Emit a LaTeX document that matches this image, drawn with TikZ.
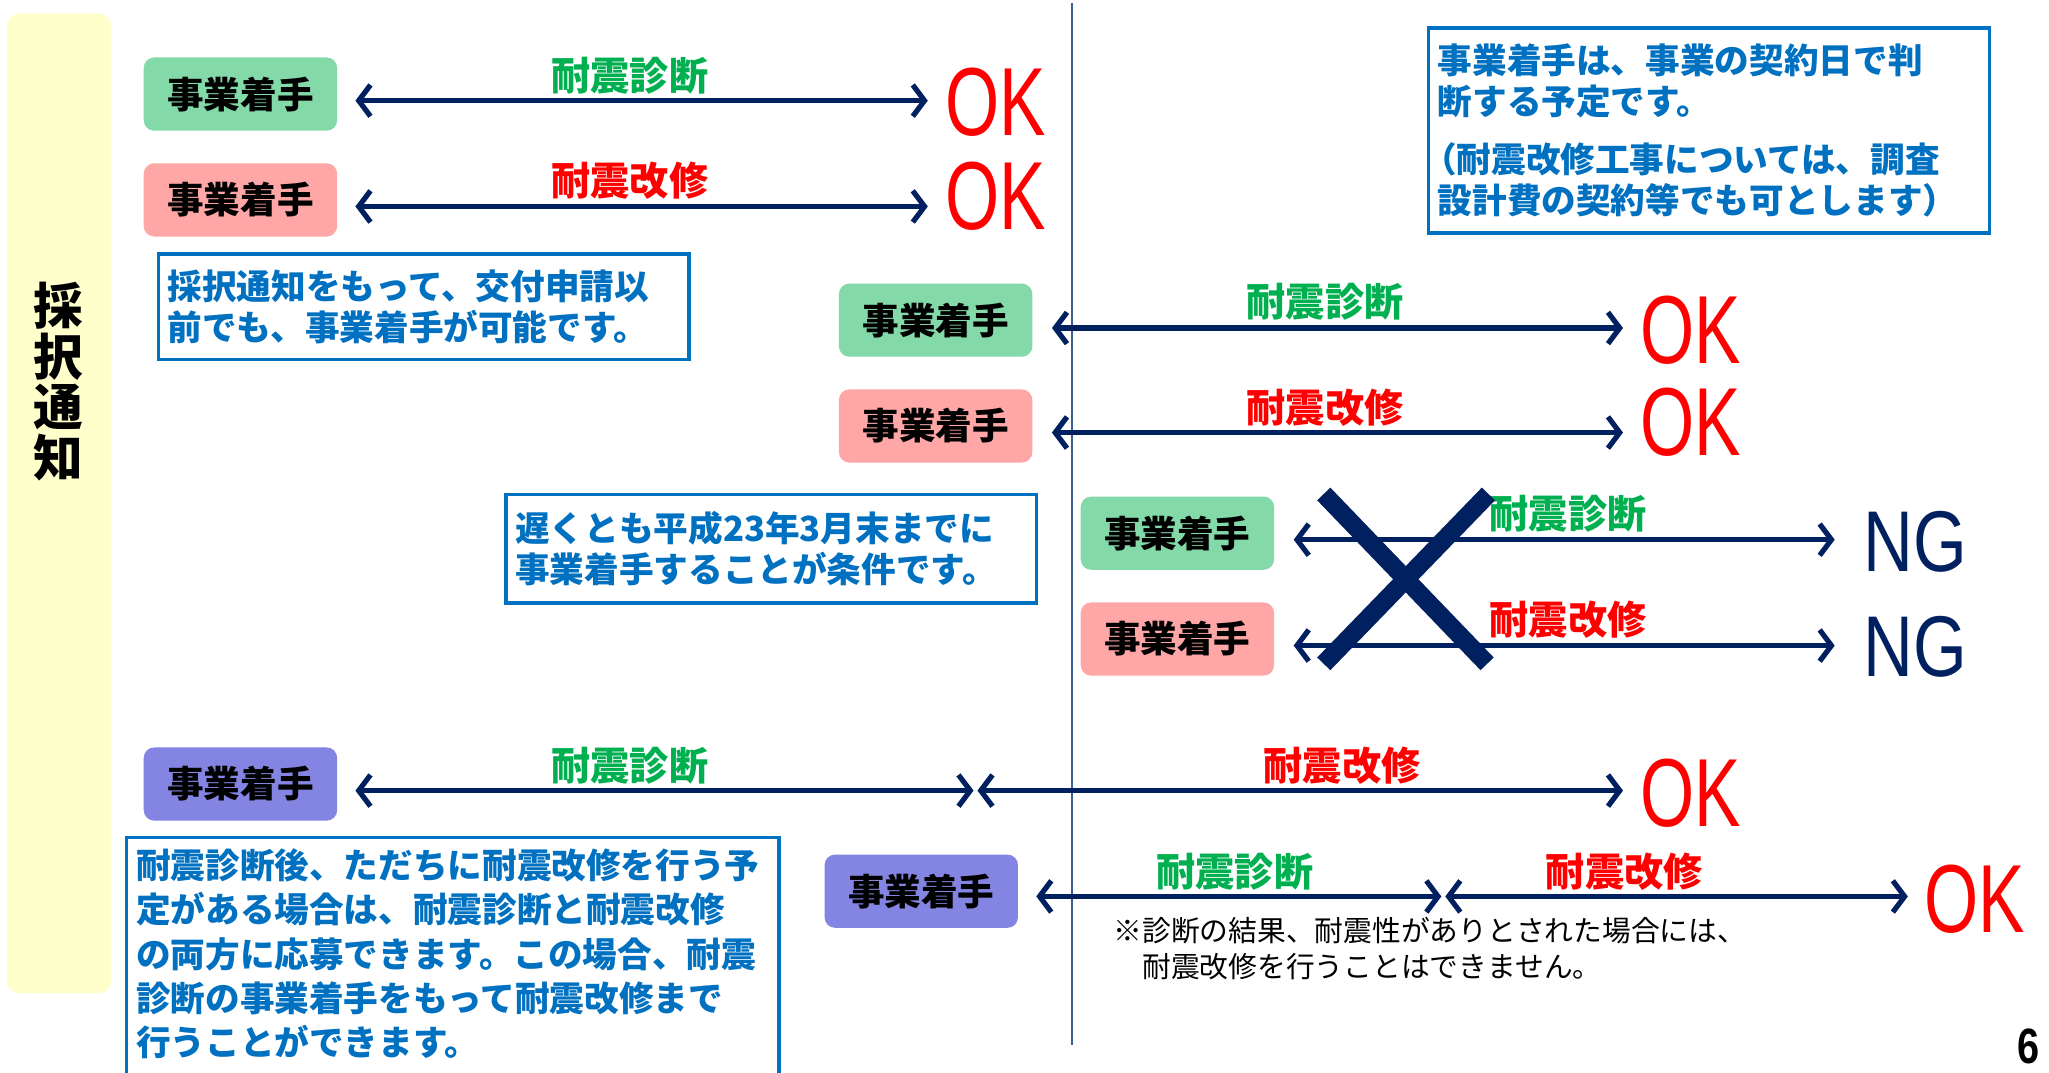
\documentclass[tikz,border=0pt]{standalone}
\usepackage{fontspec}
\setmainfont{Noto Sans CJK JP}
\newfontfamily\okfont{Liberation Sans}
\usetikzlibrary{arrows.meta}
\definecolor{navy}{HTML}{002060}
\definecolor{lblgreen}{HTML}{00B050}
\definecolor{lblred}{HTML}{FF0000}
\definecolor{txtblue}{HTML}{0070C0}
\definecolor{boxgreen}{HTML}{84D9A8}
\definecolor{boxred}{HTML}{FFA7A7}
\definecolor{boxpurple}{HTML}{8484E2}
\definecolor{sideyellow}{HTML}{FFFFCC}
\definecolor{vline}{HTML}{3B5E96}
\tikzset{
  startbox/.style={rounded corners=8pt, minimum width=148pt, minimum height=56pt, inner sep=0pt,
    font=\fontsize{28}{30}\selectfont\bfseries, text=black},
  gbox/.style={startbox, fill=boxgreen},
  rbox/.style={startbox, fill=boxred},
  pbox/.style={startbox, fill=boxpurple},
  lblg/.style={font=\fontsize{30}{32}\selectfont\bfseries, text=lblgreen, inner sep=0pt},
  lblr/.style={font=\fontsize{30}{32}\selectfont\bfseries, text=lblred, inner sep=0pt},
  okmark/.style={font=\okfont\fontsize{74}{80}\selectfont, text=lblred, xscale=0.72, inner sep=0pt},
  ngmark/.style={font=\okfont\fontsize{66}{70}\selectfont, text=navy, xscale=0.8, inner sep=0pt},
  arr/.style={navy, line width=4pt, {Straight Barb[length=9pt,width=24pt]}-{Straight Barb[length=9pt,width=24pt]}},
  infobox/.style={draw=txtblue, line width=2.6pt, anchor=north west, inner xsep=7pt, inner ysep=6pt,
    align=left, text=txtblue, font=\fontsize{26.5}{31}\selectfont\bfseries},
  infotext/.style={anchor=north west, inner xsep=7pt, inner ysep=6pt,
    align=left, text=txtblue, font=\fontsize{26.5}{31}\selectfont\bfseries},
}
\begin{document}
\begin{tikzpicture}[x=1pt,y=-1pt]
\useasboundingbox (0,0) rectangle (1568,821);
\clip (0,0) rectangle (1568,821);
\fill[white] (0,0) rectangle (1568,821);

% sidebar
\node[fill=sideyellow, rounded corners=10pt, minimum width=80pt, minimum height=750pt, anchor=north west, inner sep=0pt] (side) at (5,10) {};
\node[font=\fontsize{38}{39}\selectfont\bfseries, align=center, inner sep=0pt] (sidetxt) at (45,292) {採\\択\\通\\知};

% vertical line
\coordinate (vtop) at (820,2);
\coordinate (vbot) at (820,800);
\draw[vline, line width=1.5pt] (vtop) -- (vbot);

% row 1
\node[gbox] (b1) at (184,72) {事業着手};
\coordinate (a1s) at (272,77); \coordinate (a1e) at (710,77);
\draw[arr] (a1s) -- (a1e);
\node[lblg] (l1) at (482,58) {耐震診断};
\node[okmark] (ok1) at (762,78) {OK};

% row 2
\node[rbox] (b2) at (184,153) {事業着手};
\coordinate (a2s) at (272,158); \coordinate (a2e) at (710,158);
\draw[arr] (a2s) -- (a2e);
\node[lblr] (l2) at (482,138) {耐震改修};
\node[okmark] (ok2) at (762,150) {OK};

% info box 1
\node[infobox, minimum width=406pt, minimum height=81pt, text width=392pt] (info1) at (120,193)
  {採択通知をもって、交付申請以\\前でも、事業着手が可能です。};

% row 3
\node[gbox] (b3) at (716,245) {事業着手};
\coordinate (a3s) at (805,251); \coordinate (a3e) at (1242,251);
\draw[arr] (a3s) -- (a3e);
\node[lblg] (l3) at (1014,231) {耐震診断};
\node[okmark] (ok3) at (1294,253) {OK};

% row 4
\node[rbox] (b4) at (716,326) {事業着手};
\coordinate (a4s) at (805,331); \coordinate (a4e) at (1242,331);
\draw[arr] (a4s) -- (a4e);
\node[lblr] (l4) at (1014,312) {耐震改修};
\node[okmark] (ok4) at (1294,323) {OK};

% info box 2
\node[infobox, minimum width=406pt, minimum height=83pt, text width=392pt] (info2) at (386,377)
  {遅くとも平成23年3月末までに\\事業着手することが条件です。};

% row 5
\node[gbox] (b5) at (901,408) {事業着手};
\coordinate (a5s) at (990,413); \coordinate (a5e) at (1404,413);
\draw[arr] (a5s) -- (a5e);
\node[lblg] (l5) at (1200,393) {耐震診断};
\node[ngmark] (ng5) at (1466,415) {NG};

% row 6
\node[rbox] (b6) at (901,489) {事業着手};
\coordinate (a6s) at (990,494); \coordinate (a6e) at (1404,494);
\draw[arr] (a6s) -- (a6e);
\node[lblr] (l6) at (1200,474) {耐震改修};
\node[ngmark] (ng6) at (1466,495) {NG};

% big cross
\coordinate (x1) at (1013,378); \coordinate (x2) at (1138,508);
\coordinate (x3) at (1139,378); \coordinate (x4) at (1013,508);
\draw[navy, line width=14pt] (x1) -- (x2);
\draw[navy, line width=14pt] (x3) -- (x4);

% row 7
\node[pbox] (b7) at (184,600) {事業着手};
\coordinate (a7s) at (272,605); \coordinate (a7m) at (745,605);
\coordinate (a7n) at (748,605); \coordinate (a7e) at (1242,605);
\draw[arr] (a7s) -- (a7m);
\draw[arr] (a7n) -- (a7e);
\node[lblg] (l7a) at (482,586) {耐震診断};
\node[lblr] (l7b) at (1027,586) {耐震改修};
\node[okmark] (ok7) at (1294,607) {OK};

% info box 3 (frame runs past the lower edge, as in the reference)
\coordinate (f3a) at (97,641); \coordinate (f3b) at (596,845);
\draw[txtblue, line width=2.6pt] (f3a) rectangle (f3b);
\node[infotext, text width=485pt, inner ysep=8pt, font=\fontsize{26.5}{34}\selectfont\bfseries] (info3) at (97,641)
  {耐震診断後、ただちに耐震改修を行う予\\定がある場合は、耐震診断と耐震改修\\の両方に応募できます。この場合、耐震\\診断の事業着手をもって耐震改修まで\\行うことができます。};

% row 8
\node[pbox] (b8) at (705,682) {事業着手};
\coordinate (a8s) at (793,686); \coordinate (a8m) at (1103,686);
\coordinate (a8n) at (1106,686); \coordinate (a8e) at (1460,686);
\draw[arr] (a8s) -- (a8m);
\draw[arr] (a8n) -- (a8e);
\node[lblg] (l8a) at (945,667) {耐震診断};
\node[lblr] (l8b) at (1243,667) {耐震改修};
\node[okmark] (ok8) at (1511,688) {OK};
\node[anchor=north west, align=left, inner sep=0pt, font=\fontsize{22}{27}\selectfont] (note) at (852,702)
  {※診断の結果、耐震性がありとされた場合には、\\　耐震改修を行うことはできません。};

% top right info
\node[infobox, minimum width=429pt, minimum height=157pt, text width=415pt] (info4) at (1092,20)
  {事業着手は、事業の契約日で判\\断する予定です。\\[14pt]\hspace*{-12pt}（耐震改修工事については、調査\\設計費の契約等でも可とします）};

% page number
\node[font=\okfont\bfseries\fontsize{38}{40}\selectfont, xscale=0.8, inner sep=0pt] (pnum) at (1552,801) {6};
\end{tikzpicture}
\end{document}
